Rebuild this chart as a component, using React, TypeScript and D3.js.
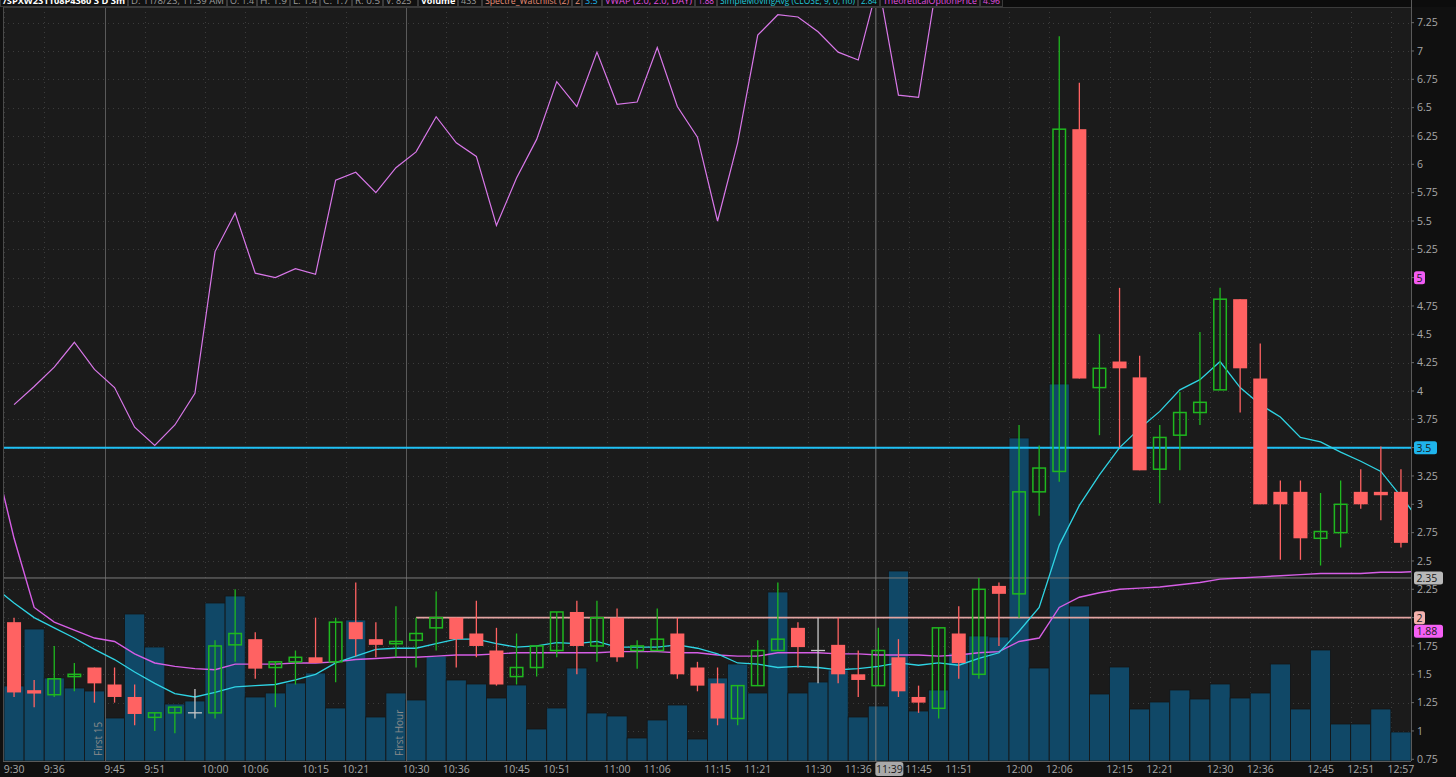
import React from 'react';
import * as d3 from 'd3';

const W = 1456;
const H = 777;

const times = [
  '9:30','9:33','9:36','9:39','9:42','9:45','9:48','9:51','9:54','9:57',
  '10:00','10:03','10:06','10:09','10:12','10:15','10:18','10:21','10:24','10:27',
  '10:30','10:33','10:36','10:39','10:42','10:45','10:48','10:51','10:54','10:57',
  '11:00','11:03','11:06','11:09','11:12','11:15','11:18','11:21','11:24','11:27',
  '11:30','11:33','11:36','11:39','11:42','11:45','11:48','11:51','11:54','11:57',
  '12:00','12:03','12:06','12:09','12:12','12:15','12:18','12:21','12:24','12:27',
  '12:30','12:33','12:36','12:39','12:42','12:45','12:48','12:51','12:54','12:57',
];
const lineTimes = ['9:27', ...times, '13:00'];

const opens = [
  1.96,1.36,1.32,1.48,1.56,1.41,1.30,1.12,1.16,1.16,
  1.16,1.76,1.81,1.56,1.61,1.65,1.61,1.96,1.81,1.77,
  1.80,1.91,2.00,1.86,1.71,1.48,1.56,1.71,2.05,1.75,
  2.00,1.71,1.71,1.86,1.56,1.42,1.11,1.40,1.71,1.91,
  1.71,1.76,1.50,1.40,1.65,1.30,1.20,1.86,1.50,2.28,
  2.21,3.11,3.29,6.31,4.03,4.26,4.12,3.31,3.61,3.81,
  4.01,4.81,4.11,3.11,3.11,2.70,2.75,3.11,3.11,3.11,
];
const highs = [
  2.00,1.45,1.75,1.60,1.56,1.56,1.41,1.16,1.21,1.37,
  1.80,2.25,1.87,1.61,1.71,2.00,2.00,2.31,1.96,2.10,
  2.00,2.23,2.00,2.15,1.91,1.86,1.75,2.05,2.15,2.15,
  2.08,1.80,2.08,2.00,1.61,1.56,1.40,1.80,2.31,1.96,
  2.00,2.00,1.71,1.91,1.81,1.40,1.91,2.10,2.35,2.31,
  3.70,3.52,7.13,6.72,4.50,4.91,4.31,3.70,3.99,4.52,
  4.91,4.81,4.42,3.21,3.21,3.10,3.21,3.31,3.51,3.31,
];
const lows = [
  1.30,1.21,1.30,1.35,1.25,1.25,1.05,1.00,0.98,1.11,
  1.11,1.61,1.46,1.21,1.41,1.60,1.43,1.66,1.65,1.65,
  1.56,1.71,1.56,1.65,1.40,1.41,1.48,1.65,1.50,1.61,
  1.61,1.55,1.71,1.46,1.35,1.05,1.05,1.40,1.71,1.56,
  1.42,1.42,1.30,1.40,1.30,1.16,1.11,1.46,1.46,1.75,
  2.00,2.90,3.20,4.11,3.61,3.50,3.30,3.01,3.30,3.70,
  4.01,3.81,3.00,2.51,2.51,2.46,2.62,2.96,2.86,2.62,
];
const closes = [
  1.34,1.33,1.46,1.50,1.42,1.30,1.15,1.16,1.21,1.16,
  1.75,1.86,1.55,1.61,1.65,1.60,1.96,1.81,1.76,1.79,
  1.86,2.00,1.81,1.75,1.41,1.56,1.75,2.05,1.75,2.00,
  1.65,1.75,1.81,1.50,1.40,1.11,1.40,1.71,1.81,1.74,
  1.71,1.50,1.45,1.71,1.35,1.25,1.91,1.60,2.25,2.21,
  3.11,3.32,6.31,4.11,4.20,4.20,3.30,3.59,3.81,3.90,
  4.81,4.20,3.00,3.00,2.70,2.76,3.00,3.00,3.08,2.66,
];
const volumes = [
  1125,1980,1245,1095,1050,645,2205,1710,855,900,
  2370,2475,960,1020,1170,1320,795,2115,660,1020,
  915,1575,1215,1155,945,1140,480,795,1395,720,
  675,345,615,840,330,1245,1455,1020,2535,1020,
  1185,1365,660,825,2850,750,1065,1620,1875,1860,
  4845,1395,5655,2325,1005,1410,780,885,1065,930,
  1155,945,1020,1455,780,1665,555,555,780,435,
];

// SimpleMovingAvg (cyan), 9:27 .. 13:00
const smaValues = [
  2.27,
  2.13,2.00,1.91,1.82,1.72,1.63,1.52,1.42,1.33,1.30,
  1.34,1.39,1.40,1.41,1.45,1.50,1.60,1.66,1.72,1.73,
  1.73,1.77,1.81,1.81,1.77,1.74,1.75,1.78,1.77,1.79,
  1.74,1.74,1.74,1.76,1.73,1.68,1.60,1.59,1.56,1.57,
  1.56,1.54,1.55,1.57,1.60,1.58,1.60,1.58,1.64,1.69,
  1.88,2.09,2.64,2.99,3.26,3.50,3.67,3.82,4.01,4.10,
  4.26,4.03,3.88,3.77,3.59,3.55,3.46,3.38,3.29,3.07,
  2.84,
];
// VWAP (magenta), 9:27 .. 13:00
const vwapValues = [
  3.44,
  2.70,2.09,1.96,1.89,1.82,1.79,1.68,1.60,1.57,1.55,
  1.54,1.59,1.59,1.59,1.60,1.60,1.61,1.63,1.64,1.65,
  1.65,1.66,1.67,1.67,1.68,1.69,1.69,1.69,1.69,1.69,
  1.70,1.70,1.70,1.69,1.69,1.67,1.66,1.66,1.69,1.69,
  1.69,1.68,1.68,1.67,1.67,1.67,1.66,1.67,1.69,1.70,
  1.79,1.82,2.09,2.18,2.22,2.25,2.26,2.27,2.29,2.31,
  2.34,2.35,2.36,2.37,2.38,2.39,2.39,2.39,2.40,2.40,
  2.41,
];
// TheoreticalOptionPrice (violet), 9:30 .. 11:48
const theoValues = [
  3.88,4.04,4.21,4.43,4.19,4.03,3.68,3.52,3.70,3.98,
  5.23,5.57,5.04,5.00,5.08,5.03,5.86,5.93,5.75,5.97,
  6.11,6.42,6.19,6.07,5.46,5.88,6.22,6.73,6.51,6.99,
  6.53,6.55,7.03,6.51,6.24,5.50,6.19,7.14,7.32,7.30,
  7.17,6.99,6.92,7.60,6.61,6.59,7.70,
];

const priceTicks = [0.75,1,1.25,1.5,1.75,2,2.25,2.5,2.75,3,3.25,3.5,3.75,4,4.25,4.5,4.75,5,5.25,5.5,5.75,6,6.25,6.5,6.75,7,7.25,7.5];
const timeTicks = ['9:30','9:36','9:45','9:51','10:00','10:06','10:15','10:21','10:30','10:36','10:45','10:51','11:00','11:06','11:15','11:21','11:30','11:36','11:45','11:51','12:00','12:06','12:15','12:21','12:30','12:36','12:45','12:51','12:57'];

const levelLabels = [
  { value: 5, text: '5', bg: '#f25cf2' },
  { value: 3.5, text: '3.5', bg: '#1fb4ec' },
  { value: 2.35, text: '2.35', bg: '#b9b9b9' },
  { value: 2, text: '2', bg: '#f3b1ae' },
  { value: 1.88, text: '1.88', bg: '#f55ff5' },
];

const headerItems = [
  { text: '/SPXW231108P4360 3 D 3m', color: '#ffffff', w: 128, bold: true },
  { text: 'D: 11/8/23, 11:39 AM', color: '#9a9a9a', w: 99 },
  { text: 'O: 1.4', color: '#9a9a9a', w: 30 },
  { text: 'H: 1.9', color: '#9a9a9a', w: 33 },
  { text: 'L: 1.4', color: '#9a9a9a', w: 30 },
  { text: 'C: 1.7', color: '#9a9a9a', w: 32 },
  { text: 'R: 0.5', color: '#9a9a9a', w: 31 },
  { text: 'V: 825', color: '#9a9a9a', w: 35 },
  { text: 'Volume', color: '#ffffff', w: 40, bold: true },
  { text: '433', color: '#9a9a9a', w: 24 },
  { text: 'Spectre_Watchlist (2)', color: '#e8907a', w: 90 },
  { text: '2', color: '#e8907a', w: 10 },
  { text: '3.5', color: '#1fb4ec', w: 20 },
  { text: 'VWAP (2.0, 2.0, DAY)', color: '#e050e0', w: 93 },
  { text: '1.88', color: '#e050e0', w: 22 },
  { text: 'SimpleMovingAvg (CLOSE, 9, 0, no)', color: '#20c8d8', w: 141 },
  { text: '2.84', color: '#20c8d8', w: 22 },
  { text: 'TheoreticalOptionPrice', color: '#e050e0', w: 100 },
  { text: '4.96', color: '#e050e0', w: 23 },
];

const PL = 3, PR = 1411, PT = 7, PB = 761;
const FONT = '"Open Sans", "DejaVu Sans", sans-serif';

export default function App() {
  const xb = d3.scaleBand<string>().domain(times).range([PL + 1, PR]).padding(0);
  const bw = xb.bandwidth();
  const cx = (t: string) => (xb(t) as number) + bw / 2;
  const xp = d3.scalePoint<string>().domain(lineTimes).range([PL + 1 - bw / 2, PR + bw / 2]);
  const y = d3.scaleLinear().domain([0.735, 7.45]).range([PB, 0]);
  const yv = d3.scaleLinear().domain([0, 11415]).range([PB, 0]);

  const lineAll = d3.line<number>().x((_, i) => xp(lineTimes[i]) as number).y((d) => y(d));
  const lineTheo = d3.line<number>().x((_, i) => xp(times[i]) as number).y((d) => y(d));

  const green = '#1fb81f';
  const red = '#ff6262';
  const doji = '#c8c8c8';
  const bodyW = 14;

  const crossT = '11:39';
  const crossX = cx(crossT) - 3;

  const headerPos: number[] = [];
  headerItems.reduce((acc, it) => { headerPos.push(acc); return acc + it.w; }, 0);

  return (
    <svg width={W} height={H} style={{ position: 'fixed', left: 0, top: 0, background: '#101010' }} fontFamily={FONT}>
      <defs>
        <clipPath id="plot">
          <rect x={PL} y={PT + 0.5} width={PR - PL} height={PB - PT - 0.5} />
        </clipPath>
        {headerItems.map((it, k) => (
          <clipPath key={'hc' + k} id={'hc' + k}>
            <rect x={headerPos[k] + 1} y={0} width={it.w - 2} height={PT} />
          </clipPath>
        ))}
      </defs>
      {/* plot background */}
      <rect x={PL} y={PT} width={PR - PL} height={PB - PT} fill="#1b1b1b" />

      {/* grid */}
      <g stroke="#3c3c3c" strokeWidth={1} strokeDasharray="1,4">
        {priceTicks.map((p) => (
          <line key={'gh' + p} x1={PL} x2={PR} y1={Math.round(y(p)) + 0.5} y2={Math.round(y(p)) + 0.5} />
        ))}
        {timeTicks.map((t) => (
          <line key={'gv' + t} x1={Math.round(xb(t) as number) + 0.5} x2={Math.round(xb(t) as number) + 0.5} y1={PT} y2={PB} />
        ))}
      </g>

      <g clipPath="url(#plot)">
        {/* volume */}
        {times.map((t, i) => (
          <rect key={'v' + t} x={xb(t) as number} y={yv(volumes[i])} width={bw} height={PB - yv(volumes[i])}
            fill="#104867" stroke="#141414" strokeWidth={0.8} />
        ))}

        {/* session lines */}
        <line x1={Math.round(xb('9:45') as number) + 0.5} x2={Math.round(xb('9:45') as number) + 0.5} y1={PT} y2={PB} stroke="#5a5a5a" strokeWidth={1} />
        <line x1={Math.round(xb('10:30') as number) + 0.5} x2={Math.round(xb('10:30') as number) + 0.5} y1={PT} y2={PB} stroke="#5a5a5a" strokeWidth={1} />
        <text transform={`translate(${(xb('9:45') as number) - 3},${PB - 5}) rotate(-90)`} fill="#8a8a8a" fontSize={10}>First 15</text>
        <text transform={`translate(${(xb('10:30') as number) - 3},${PB - 5}) rotate(-90)`} fill="#8a8a8a" fontSize={10}>First Hour</text>

        {/* crosshair */}
        <line x1={crossX + 0.5} x2={crossX + 0.5} y1={PT} y2={PB} stroke="#7a7a7a" strokeWidth={1} />

        {/* horizontal levels */}
        <line x1={PL} x2={PR} y1={y(2.35)} y2={y(2.35)} stroke="#7c7c7c" strokeWidth={1} />
        <line x1={cx('10:30')} x2={PR} y1={y(2)} y2={y(2)} stroke="#e2a4a2" strokeWidth={1.6} />
        <line x1={PL} x2={PR} y1={y(3.5)} y2={y(3.5)} stroke="#1fc0f4" strokeWidth={2} />

        {/* lines */}
        <path d={lineAll(vwapValues) as string} fill="none" stroke="#d65ee6" strokeWidth={1.4} />
        <path d={lineAll(smaValues) as string} fill="none" stroke="#2fd4e4" strokeWidth={1.3} />
        <path d={lineTheo(theoValues) as string} fill="none" stroke="#d877e8" strokeWidth={1.2} />

        {/* candles */}
        {times.map((t, i) => {
          const o = opens[i], c = closes[i], h = highs[i], l = lows[i];
          const x0 = cx(t);
          const isDoji = o === c;
          const up = c > o;
          const col = isDoji ? doji : up ? green : red;
          const yTop = y(Math.max(o, c));
          const yBot = y(Math.min(o, c));
          return (
            <g key={'c' + t}>
              <line x1={x0} x2={x0} y1={y(h)} y2={y(l)} stroke={col} strokeWidth={1.3} />
              {isDoji ? (
                <line x1={x0 - bodyW / 2} x2={x0 + bodyW / 2} y1={yTop} y2={yTop} stroke={col} strokeWidth={1.3} />
              ) : up ? (
                <rect x={x0 - bodyW / 2 + 0.75} y={yTop} width={bodyW - 1.5} height={Math.max(1.5, yBot - yTop)}
                  fill="none" stroke={col} strokeWidth={1.5} />
              ) : (
                <rect x={x0 - bodyW / 2} y={yTop} width={bodyW} height={Math.max(2, yBot - yTop)} fill={col} />
              )}
            </g>
          );
        })}
      </g>

      {/* header */}
      <rect x={0} y={0} width={W} height={PT} fill="#0c0c0c" />
      {headerItems.map((it, k) => {
        const est = it.text.length * (it.bold ? 5.6 : 5.0);
        const fit = est > it.w - 5;
        return (
          <g key={'h' + k}>
            <rect x={headerPos[k] + 0.5} y={-8} width={it.w - 1} height={14.5} fill="#111111" stroke="#3a3a3a" strokeWidth={1} />
            <g clipPath={`url(#hc${k})`}>
              <text x={headerPos[k] + 3} y={3.5} fill={it.color} fontSize={9} fontWeight={it.bold ? 700 : 400}
                {...(fit ? { textLength: it.w - 6, lengthAdjust: 'spacingAndGlyphs' } : {})}>{it.text}</text>
            </g>
          </g>
        );
      })}
      <line x1={PL} x2={PR} y1={PT + 0.5} y2={PT + 0.5} stroke="#3a3a3a" />
      <line x1={PL + 0.5} x2={PL + 0.5} y1={PT} y2={PB} stroke="#4a4a4a" />

      {/* right axis */}
      <rect x={PR} y={PT} width={W - PR} height={H - PT} fill="#101010" />
      <line x1={PR + 0.5} x2={PR + 0.5} y1={0} y2={PB} stroke="#5a5a5a" strokeWidth={1} />
      {priceTicks.map((p) => {
        const hidden = levelLabels.some((l) => l.value === p);
        return (
          <g key={'t' + p}>
            <line x1={PR} x2={PR + 3} y1={y(p)} y2={y(p)} stroke="#6a6a6a" />
            {!hidden && (
              <text x={PR + 6} y={y(p) + 3.8} fill="#a8a8a8" fontSize={10.5}>{String(p)}</text>
            )}
          </g>
        );
      })}
      {levelLabels.map((l) => {
        const w = l.text.length * 6 + 5;
        return (
          <g key={'ll' + l.text}>
            <rect x={PR + 3} y={y(l.value) - 6.5} width={w} height={13} rx={2.5} fill={l.bg} />
            <text x={PR + 5.5} y={y(l.value) + 4} fill="#1a1a1a" fontSize={10.5}>{l.text}</text>
          </g>
        );
      })}

      {/* bottom axis */}
      <rect x={0} y={PB} width={PR} height={H - PB} fill="#101010" />
      <line x1={PL} x2={PR} y1={PB + 0.5} y2={PB + 0.5} stroke="#5a5a5a" />
      {timeTicks.map((t) => (
        <text key={'xt' + t} x={cx(t)} y={773} fill="#a8a8a8" fontSize={10.5} textAnchor="middle">{t}</text>
      ))}
      <rect x={crossX} y={762} width={28} height={14} rx={2.5} fill="#a9a9a9" />
      <text x={crossX + 14} y={773} fill="#1a1a1a" fontSize={10.5} textAnchor="middle">{crossT}</text>
    </svg>
  );
}
